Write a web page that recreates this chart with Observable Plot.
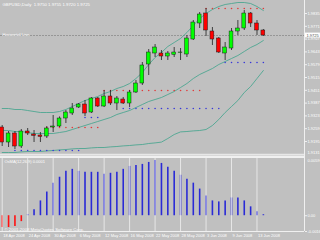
<!DOCTYPE html>
<html><head><meta charset="utf-8">
<script src="https://cdn.jsdelivr.net/npm/d3@7"></script>
<script src="https://cdn.jsdelivr.net/npm/@observablehq/plot@0.6"></script>
<style>
html,body{margin:0;padding:0;background:#c0c0c0;}
#chart{position:relative;width:320px;height:240px;overflow:hidden;background:#c0c0c0;}
#chart svg{display:block;}
</style></head><body><div id="chart"></div>
<script>
const symbol = "GBPUSD,Daily";
const openP  = [1.9265,1.9190,1.9235,1.9170,1.9245,1.9230,1.9225,1.9220,1.9265,1.9270,1.9310,1.9335,1.9365,1.9380,1.9340,1.9410,1.9370,1.9420,1.9385,1.9405,1.9385,1.9440,1.9485,1.9580,1.9635,1.9635,1.9620,1.9628,1.9638,1.9630,1.9705,1.9785,1.9835,1.9745,1.9710,1.9635,1.9660,1.9745,1.9760,1.9835,1.9785,1.9750];
const highP  = [1.9275,1.9245,1.9245,1.9255,1.9260,1.9250,1.9240,1.9270,1.9325,1.9318,1.9350,1.9385,1.9385,1.9400,1.9415,1.9415,1.9450,1.9450,1.9420,1.9415,1.9450,1.9500,1.9590,1.9655,1.9680,1.9650,1.9645,1.9665,1.9660,1.9725,1.9800,1.9840,1.9860,1.9765,1.9715,1.9690,1.9760,1.9800,1.9850,1.9840,1.9800,1.9755];
const lowP   = [1.9170,1.9165,1.9155,1.9160,1.9225,1.9190,1.9190,1.9210,1.9240,1.9265,1.9285,1.9325,1.9360,1.9320,1.9335,1.9365,1.9365,1.9375,1.9350,1.9380,1.9365,1.9435,1.9475,1.9525,1.9615,1.9600,1.9600,1.9615,1.9600,1.9615,1.9700,1.9760,1.9720,1.9675,1.9635,1.9600,1.9650,1.9725,1.9750,1.9765,1.9725,1.9720];
const closeP = [1.9190,1.9235,1.9170,1.9245,1.9235,1.9223,1.9218,1.9260,1.9270,1.9310,1.9340,1.9360,1.9380,1.9335,1.9410,1.9370,1.9420,1.9385,1.9410,1.9385,1.9440,1.9485,1.9575,1.9640,1.9665,1.9620,1.9635,1.9640,1.9640,1.9710,1.9790,1.9830,1.9750,1.9705,1.9640,1.9665,1.9745,1.9760,1.9835,1.9785,1.9750,1.9725];
const bbUpper  = [1.9360,1.9360,1.9355,1.9355,1.9350,1.9345,1.9340,1.9340,1.9340,1.9345,1.9355,1.9370,1.9385,1.9400,1.9410,1.9420,1.9435,1.9445,1.9460,1.9470,1.9485,1.9510,1.9540,1.9580,1.9615,1.9640,1.9670,1.9690,1.9710,1.9740,1.9775,1.9810,1.9835,1.9855,1.9870,1.9880,1.9885,1.9890,1.9890,1.9885,1.9870,1.9850];
const bbMiddle = [1.9250,1.9250,1.9245,1.9245,1.9240,1.9235,1.9235,1.9235,1.9235,1.9240,1.9245,1.9255,1.9265,1.9275,1.9285,1.9295,1.9305,1.9315,1.9330,1.9340,1.9350,1.9365,1.9380,1.9395,1.9405,1.9415,1.9430,1.9445,1.9465,1.9485,1.9510,1.9530,1.9545,1.9560,1.9580,1.9595,1.9610,1.9625,1.9645,1.9665,1.9680,1.9700];
const bbLower  = [1.9140,1.9140,1.9140,1.9143,1.9145,1.9145,1.9145,1.9148,1.9150,1.9153,1.9155,1.9158,1.9160,1.9160,1.9163,1.9165,1.9165,1.9168,1.9170,1.9173,1.9175,1.9178,1.9180,1.9185,1.9188,1.9192,1.9210,1.9230,1.9243,1.9245,1.9248,1.9250,1.9255,1.9275,1.9305,1.9340,1.9370,1.9400,1.9440,1.9470,1.9510,1.9550];
const levelUp   = [null,null,null,null,null,null,null,1.9265,1.9265,1.9265,1.9265,1.9265,1.9265,1.9265,1.9265,1.9265,1.9450,1.9450,1.9450,1.9450,1.9450,1.9450,1.9450,1.9450,1.9450,1.9450,1.9450,1.9450,1.9450,1.9450,1.9450,1.9450,1.9860,1.9860,1.9860,1.9860,1.9860,1.9860,1.9860,1.9860,1.9860,1.9860];
const levelDown = [null,null,1.9150,1.9150,1.9150,1.9150,1.9150,1.9150,1.9150,1.9150,1.9150,1.9150,1.9150,1.9315,1.9315,1.9315,null,null,null,1.9360,1.9360,1.9360,1.9360,1.9360,1.9360,1.9360,1.9360,1.9360,1.9360,1.9360,1.9360,1.9360,1.9360,1.9360,1.9360,1.9590,1.9590,1.9590,1.9590,1.9590,1.9590,1.9590];
const osma = [-0.0012,-0.0012,-0.0011,-0.0006,0.0001,0.0006,0.0015,0.0024,0.0033,0.0039,0.0045,0.0047,0.0045,0.0044,0.0044,0.0044,0.0042,0.0043,0.0044,0.0047,0.0050,0.0051,0.0052,0.0054,0.0056,0.0053,0.0049,0.0045,0.0041,0.0037,0.0033,0.0027,0.0020,0.0015,0.0014,0.0015,0.0018,0.0018,0.0015,0.0009,0.0004,0.0001];
const dateLabels = ["18 Apr 2008","24 Apr 2008","30 Apr 2008","6 May 2008","12 May 2008","16 May 2008","22 May 2008","28 May 2008","3 Jun 2008","9 Jun 2008","13 Jun 2008"];
const dateIndex  = [0,4,8,12,16,20,24,28,32,36,40];
const priceTicks = [1.9835,1.9771,1.9707,1.9643,1.9579,1.9515,1.9451,1.9387,1.9323,1.9259,1.9195,1.9131];
const osmaTicks  = [0.0059,0,-0.0016];
const osmaLabel  = "OsMA(12,26,9) 0.0001";
const copyright  = "© 2001-2008 MetaQuotes Software Corp.";

const candles = openP.map((o,i)=>({i, open:o, high:highP[i], low:lowP[i], close:closeP[i]}));
const last = candles[candles.length-1];
const bid = last.close;
const band = (arr)=>arr.map((v,i)=>({i,v}));
const dotsUp = levelUp.map((v,i)=>({i,v})).filter(d=>d.v!=null);
const dotsDn = levelDown.map((v,i)=>({i,v})).filter(d=>d.v!=null);
const hist = osma.map((v,i)=>({i,v}));
const dates = dateLabels.map((t,k)=>({i:dateIndex[k], t}));

const X0 = -0.267, X1 = 47.457;
const font = "Liberation Sans, Arial, sans-serif";
const bbColor = "#3fa38c";
const fmtP = d=>d.toFixed(4);

const main = Plot.plot({
  width: 320, height: 156,
  marginLeft: 0, marginRight: 16, marginTop: 0, marginBottom: 1,
  style: {background: "transparent", color: "white", fontFamily: font, fontSize: "4px", overflow: "visible"},
  x: {domain: [X0, X1], range: [0, 304], axis: null},
  y: {domain: [1.9125, 1.99], range: [155, 0], label: null},
  marks: [
    Plot.ruleY([bid], {stroke: "#8c8c8c", strokeWidth: 0.8, strokeDasharray: "2,1"}),
    Plot.line(band(bbUpper), {x: "i", y: "v", stroke: bbColor, strokeWidth: 0.8}),
    Plot.line(band(bbMiddle), {x: "i", y: "v", stroke: bbColor, strokeWidth: 0.8}),
    Plot.line(band(bbLower), {x: "i", y: "v", stroke: bbColor, strokeWidth: 0.8}),
    Plot.dot(dotsUp, {x: "i", y: "v", r: 0.8, fill: "#e03a3a", stroke: "none"}),
    Plot.dot(dotsDn, {x: "i", y: "v", r: 0.8, fill: "#3838d8", stroke: "none"}),
    Plot.ruleX(candles, {x: "i", y1: "low", y2: "high", stroke: "#1e1e1e", strokeWidth: 0.8}),
    Plot.rect(candles, {x1: d=>d.i-0.3, x2: d=>d.i+0.3, y1: "open", y2: "close",
      fill: d=>d.close>=d.open ? "#00ff00" : "#ff0000", stroke: "#1e1e1e", strokeWidth: 0.5}),
    Plot.ruleX([X1], {stroke: "#f0f0f0", strokeWidth: 1}),
    Plot.axisY({anchor: "right", label: null, ticks: priceTicks.slice(0, -1), tickFormat: fmtP, tickSize: 2, tickPadding: 1, fontSize: 4, stroke: "#f0f0f0"}),
    Plot.tickY(priceTicks.slice(-1), {x1: ()=>X1, x2: ()=>X1+0.3, stroke: "#f0f0f0", clip: false}),
    Plot.text(priceTicks.slice(-1), {x: ()=>X1, y: d=>d, text: fmtP, dx: 3, dy: -1.6, textAnchor: "start", fill: "white", fontSize: 4}),
    Plot.rect([bid], {x1: ()=>X1+0.15, x2: ()=>X1+2.5, y1: d=>d+0.0012, y2: d=>d-0.0012, fill: "white", clip: false}),
    Plot.text([bid], {x: ()=>X1, y: d=>d, text: fmtP, dx: 2, textAnchor: "start", fill: "#505050", fontSize: 4}),
    Plot.text([`${symbol}  ${fmtP(last.open)} ${fmtP(last.high)} ${fmtP(last.low)} ${fmtP(last.close)}`],
      {frameAnchor: "top-left", dx: 2, dy: 2, fill: "white", fontSize: 4.3}),
    Plot.text(["Horizontal Line"], {x: ()=>X0, y: ()=>bid, dx: 2, dy: -0.5, textAnchor: "start", fill: "white", fontSize: 4})
  ]
});

const lower = Plot.plot({
  width: 320, height: 84,
  marginLeft: 0, marginRight: 16, marginTop: 1, marginBottom: 9,
  style: {background: "transparent", color: "white", fontFamily: font, fontSize: "4px", overflow: "visible"},
  x: {domain: [X0, X1], range: [0, 304], axis: null},
  y: {domain: [-0.0016, 0.0059], range: [75, 1], label: null},
  marks: [
    Plot.ruleX(hist, {x: "i", y1: 0, y2: "v", stroke: d=>d.v>=0 ? "#2a2ad6" : "#ff1010", strokeWidth: 1.6}),
    Plot.ruleY([0.0059], {stroke: "#f0f0f0", strokeWidth: 2, dy: -1}),
    Plot.ruleY([-0.0016], {stroke: "#f0f0f0", strokeWidth: 1}),
    Plot.ruleX([X1], {y1: -0.0016, y2: 0.0061, stroke: "#f0f0f0", strokeWidth: 1}),
    Plot.axisY({anchor: "right", label: null, ticks: osmaTicks.slice(1), tickFormat: d=>d===0 ? "0.00" : d.toFixed(4), tickSize: 2, tickPadding: 1, fontSize: 4, stroke: "#f0f0f0"}),
    Plot.tickY(osmaTicks.slice(0, 1), {x1: ()=>X1, x2: ()=>X1+0.3, stroke: "#f0f0f0", clip: false}),
    Plot.text(osmaTicks.slice(0, 1), {x: ()=>X1, y: d=>d, text: d=>d.toFixed(4), dx: 3, dy: 3.6, textAnchor: "start", fill: "white", fontSize: 4}),
    Plot.text([osmaLabel], {frameAnchor: "top-left", dx: 4, dy: 3, fill: "white", fontSize: 4}),
    Plot.text([copyright], {frameAnchor: "bottom-left", dx: 4, dy: -1, fill: "white", fontSize: 4.3}),
    Plot.tickX(dates, {x: "i", y1: -0.0016, y2: -0.0019, stroke: "#f0f0f0", strokeWidth: 0.8, clip: false}),
    Plot.text(dates, {x: "i", text: "t", frameAnchor: "bottom", dy: 5, dx: 1, textAnchor: "start", fill: "white", fontSize: 4})
  ]
});

const c = document.getElementById("chart");
c.appendChild(main);
c.appendChild(lower);
</script></body></html>
